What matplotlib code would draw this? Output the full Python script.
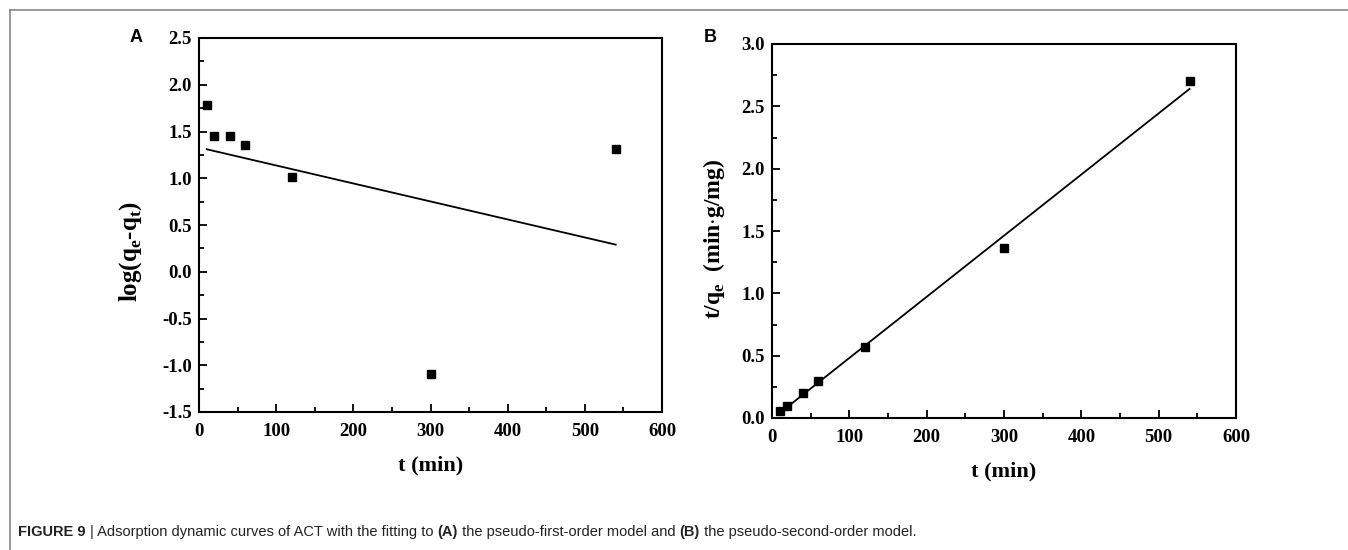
import numpy as np
import matplotlib
matplotlib.use("Agg")
from matplotlib import pyplot as plt
from matplotlib.lines import Line2D
from matplotlib.ticker import MultipleLocator

# data
t = [10, 20, 40, 60, 120, 300, 540]
log_qe_qt = [1.78, 1.45, 1.45, 1.36, 1.01, -1.09, 1.31]
t_over_q = [0.06, 0.10, 0.20, 0.30, 0.57, 1.36, 2.70]

fit_t = [10, 540]
fit_A = [1.31, 0.29]
fit_B = [0.04, 2.64]

plt.rcParams["mathtext.fontset"] = "custom"
plt.rcParams["mathtext.bf"] = "Liberation Serif:bold"
plt.rcParams["mathtext.rm"] = "Liberation Serif:bold"
plt.rcParams["axes.unicode_minus"] = False

W, H = 1348, 550
fig = plt.figure(figsize=(W / 100, H / 100), dpi=100)

serif = "Liberation Serif"
sans = "Liberation Sans"


def box(x0, y0, x1, y1):
    # pixel box (top-left origin) -> figure fraction
    return [x0 / W, 1 - y1 / H, (x1 - x0) / W, (y1 - y0) / H]


def style(ax, ymaj, ymin):
    ax.xaxis.set_major_locator(MultipleLocator(100))
    ax.xaxis.set_minor_locator(MultipleLocator(50))
    ax.yaxis.set_major_locator(MultipleLocator(ymaj))
    ax.yaxis.set_minor_locator(MultipleLocator(ymin))
    ax.tick_params(which="both", direction="in", top=False, right=False)
    ax.tick_params(which="major", length=6, width=1.3, pad=5)
    ax.tick_params(axis="x", which="major", pad=8)
    ax.tick_params(which="minor", length=3.5, width=1.3)
    for s in ax.spines.values():
        s.set_linewidth(1.5)
    for lab in ax.get_xticklabels() + ax.get_yticklabels():
        lab.set_fontfamily(serif)
        lab.set_fontweight("bold")
        lab.set_fontsize(13.5)


# panel A
axA = fig.add_axes(box(199, 38, 662, 412))
axA.plot(fit_t, fit_A, color="black", lw=1.3)
axA.plot(t, log_qe_qt, "s", color="black", markersize=6)
axA.set_xlim(0, 600)
axA.set_ylim(-1.5, 2.5)
style(axA, 0.5, 0.25)
axA.set_xlabel("t (min)", fontfamily=serif, fontweight="bold", fontsize=16, labelpad=11)
axA.set_ylabel(r"log(q$_\mathbf{e}$-q$_\mathbf{t}$)", fontfamily=serif, fontweight="bold",
               fontsize=18)
axA.yaxis.set_label_coords(-0.118, 0.43)

# panel B
axB = fig.add_axes(box(772, 44, 1236, 418))
axB.plot(fit_t, fit_B, color="black", lw=1.3)
axB.plot(t, t_over_q, "s", color="black", markersize=6)
axB.set_xlim(0, 600)
axB.set_ylim(0, 3.0)
style(axB, 0.5, 0.25)
axB.set_xlabel("t (min)", fontfamily=serif, fontweight="bold", fontsize=16, labelpad=11)
axB.set_ylabel(r"t/q$_\mathbf{e}$  (min$\cdot$g/mg)", fontfamily=serif, fontweight="bold",
               fontsize=17)
axB.yaxis.set_label_coords(-0.098, 0.48)

fig.text(130 / W, 1 - 38 / H, "A", fontfamily=sans, fontweight="bold", fontsize=13,
         ha="left", va="center")
fig.text(704 / W, 1 - 38 / H, "B", fontfamily=sans, fontweight="bold", fontsize=13,
         ha="left", va="center")

# frame lines (top and left) around the figure
fig.add_artist(Line2D([10 / W, 1], [1 - 10 / H, 1 - 10 / H], color="#888888", lw=1.2))
fig.add_artist(Line2D([10 / W, 10 / W], [0, 1 - 10 / H], color="#888888", lw=1.2))

# caption with mixed bold parts
parts = [("FIGURE 9", "bold"), (" | Adsorption dynamic curves of ACT with the fitting to ", "normal"),
         ("(A)", "bold"), (" the pseudo-first-order model and ", "normal"),
         ("(B)", "bold"), (" the pseudo-second-order model.", "normal")]
fig.canvas.draw()
renderer = fig.canvas.get_renderer()
x = 18
for txt, wt in parts:
    tx = fig.text(x / W, 1 - 532 / H, txt, fontfamily=sans, fontweight=wt, fontsize=10.5,
                  color="#222222", ha="left", va="center")
    bb = tx.get_window_extent(renderer=renderer)
    x += bb.width

fig.savefig("out.png", dpi=100)
